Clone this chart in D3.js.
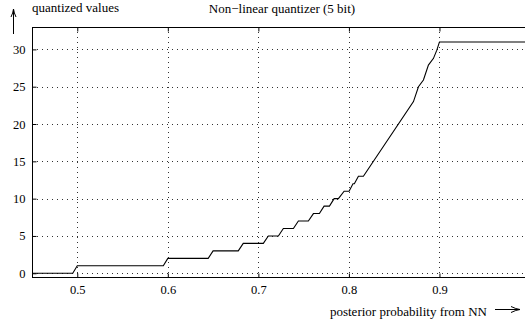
<!DOCTYPE html>
<html>
<head>
<meta charset="utf-8">
<script src="https://cdn.jsdelivr.net/npm/d3@7"></script>
<style>
  body { margin: 0; background: #fff; }
</style>
</head>
<body>
<svg id="chart" width="525" height="323"></svg>
<script>
//corner points of the quantizer curve
const probs = [0.45, 0.495, 0.5, 0.595, 0.6, 0.6446, 0.65, 0.6778, 0.6833, 0.7055, 0.711,
  0.7221, 0.7276, 0.7387, 0.7442, 0.7552, 0.7608, 0.7674, 0.7726, 0.7785, 0.7837,
  0.7884, 0.7947, 0.8002, 0.8045, 0.806, 0.8105, 0.816, 0.8713, 0.8768, 0.8823,
  0.8878, 0.8934, 0.8971, 0.9, 1.0];
const levels = [0, 0, 1, 1, 2, 2, 3, 3, 4, 4, 5,
  5, 6, 6, 7, 7, 8, 8, 9, 9, 10,
  10, 11, 11, 12, 12, 13, 13, 23, 25, 25.9,
  27.9, 28.8, 29.9, 31, 31];
const xTicks = [0.5, 0.6, 0.7, 0.8, 0.9];
const yTicks = [0, 5, 10, 15, 20, 25, 30];

const titleText = "Non\u2212linear quantizer (5 bit)";
const yLabel = "quantized values";
const xLabel = "posterior probability from NN";

const serif = "'Liberation Serif'";

function drawChart() {
  const svg = d3.select("#chart");
  const left = 32, right = 530, top = 27, bottom = 277;

  const x = d3.scaleLinear().domain([0.45, 1.0]).range([left, right]);
  const y = d3.scaleLinear().domain([-0.5, 33]).range([bottom, top]);

  //dotted grid, vertical then horizontal
  const grid = svg.append("g")
    .attr("stroke", "#000")
    .attr("stroke-width", 1)
    .attr("stroke-dasharray", "1,4")
    .attr("opacity", 0.8);
  grid.selectAll(".vg")
    .data(xTicks)
    .enter()
    .append("line")
    .attr("x1", d => Math.round(x(d)) + 0.5)
    .attr("x2", d => Math.round(x(d)) + 0.5)
    .attr("y1", top)
    .attr("y2", bottom);
  grid.selectAll(".hg")
    .data(yTicks)
    .enter()
    .append("line")
    .attr("x1", left)
    .attr("x2", right)
    .attr("y1", d => Math.round(y(d)) + 0.5)
    .attr("y2", d => Math.round(y(d)) + 0.5);

  //axes: ticks drawn inward, labels outside
  const xAxis = d3.axisBottom(x).tickValues(xTicks).tickSize(-4).tickPadding(8)
    .tickFormat(d3.format(".1f"));
  const gx = svg.append("g")
    .attr("transform", "translate(0," + (bottom + 0.5) + ")")
    .call(xAxis);
  const xTop = d3.axisTop(x).tickValues(xTicks).tickSize(-4).tickFormat("");
  const gxt = svg.append("g")
    .attr("transform", "translate(0," + (top + 0.5) + ")")
    .call(xTop);
  const yAxis = d3.axisLeft(y).tickValues(yTicks).tickSize(-4).tickPadding(7);
  const gy = svg.append("g")
    .attr("transform", "translate(" + (left + 0.5) + ",0)")
    .call(yAxis);

  [gx, gxt, gy].forEach(g => {
    g.attr("font-family", null);
    g.select(".domain").remove();
    g.selectAll(".tick line").attr("stroke", "#000");
    g.selectAll("text")
      .style("font-family", serif)
      .style("font-size", "12.5px")
      .attr("fill", "#000");
  });

  //frame round the plot
  svg.append("rect")
    .attr("x", left + 0.5)
    .attr("y", top + 0.5)
    .attr("width", right - left)
    .attr("height", bottom - top)
    .attr("fill", "none")
    .attr("stroke", "#000")
    .attr("stroke-width", 1);

  //the curve itself
  const pts = probs.map((p, i) => [p, levels[i]]);
  const line = d3.line().x(d => x(d[0])).y(d => y(d[1]));
  svg.append("path")
    .datum(pts)
    .attr("d", line)
    .attr("fill", "none")
    .attr("stroke", "#000")
    .attr("stroke-width", 1.1);

  //title and axis labels
  svg.append("text")
    .attr("x", 282)
    .attr("y", 12.5)
    .attr("text-anchor", "middle")
    .style("font-family", serif)
    .style("font-size", "13px")
    .text(titleText);
  svg.append("text")
    .attr("x", 32)
    .attr("y", 12)
    .style("font-family", serif)
    .style("font-size", "13px")
    .text(yLabel);
  svg.append("text")
    .attr("x", 487)
    .attr("y", 316)
    .attr("text-anchor", "end")
    .style("font-family", serif)
    .style("font-size", "13px")
    .text(xLabel);

  //arrows next to the labels
  svg.append("path")
    .attr("d", "M13.5,34 V9 M11,17 Q13,13 13.5,9 Q14,13 16,17")
    .attr("fill", "none")
    .attr("stroke", "#000")
    .attr("stroke-width", 1);
  svg.append("path")
    .attr("d", "M495,309.5 H520 M511,306.5 Q516,309 520,309.5 Q516,310 511,312.5")
    .attr("fill", "none")
    .attr("stroke", "#000")
    .attr("stroke-width", 1);
}

drawChart();
</script>
</body>
</html>
